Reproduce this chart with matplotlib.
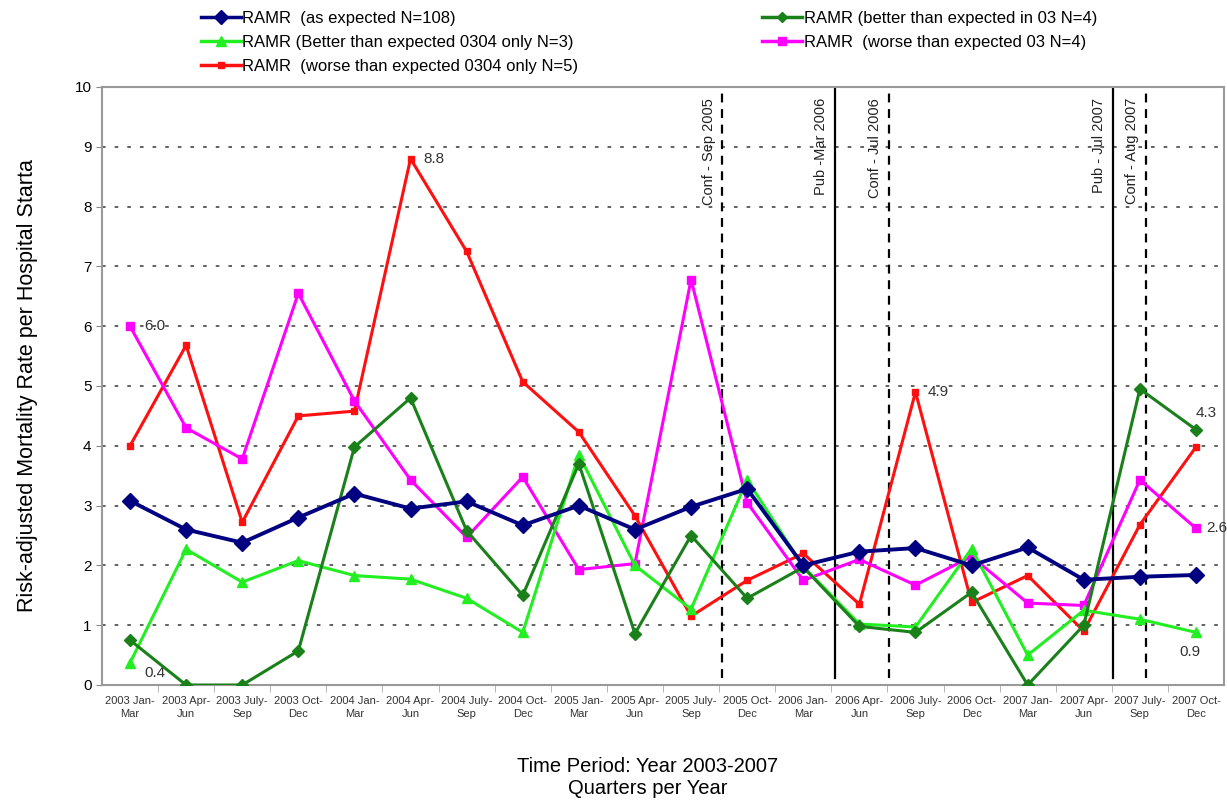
import matplotlib
matplotlib.use("Agg")
import matplotlib.pyplot as plt
from matplotlib.lines import Line2D

plt.rcParams["font.family"] = ["Liberation Sans", "DejaVu Sans"]

quarters = ["2003 Jan-\nMar", "2003 Apr-\nJun", "2003 July-\nSep", "2003 Oct-\nDec",
            "2004 Jan-\nMar", "2004 Apr-\nJun", "2004 July-\nSep", "2004 Oct-\nDec",
            "2005 Jan-\nMar", "2005 Apr-\nJun", "2005 July-\nSep", "2005 Oct-\nDec",
            "2006 Jan-\nMar", "2006 Apr-\nJun", "2006 July-\nSep", "2006 Oct-\nDec",
            "2007 Jan-\nMar", "2007 Apr-\nJun", "2007 July-\nSep", "2007 Oct-\nDec"]

as_expected = [3.08, 2.60, 2.38, 2.80, 3.20, 2.95, 3.07, 2.67, 3.00, 2.60,
               2.98, 3.28, 2.00, 2.23, 2.29, 2.00, 2.30, 1.76, 1.81, 1.84]
better_0304 = [0.37, 2.27, 1.72, 2.08, 1.83, 1.77, 1.45, 0.88, 3.85, 2.00,
               1.27, 3.43, 1.98, 1.02, 0.97, 2.28, 0.50, 1.25, 1.10, 0.88]
better_03 = [0.75, 0.00, 0.00, 0.57, 3.98, 4.80, 2.58, 1.50, 3.70, 0.86,
             2.50, 1.45, 1.97, 0.98, 0.88, 1.55, 0.00, 1.00, 4.95, 4.27]
worse_03 = [6.00, 4.30, 3.78, 6.55, 4.75, 3.43, 2.47, 3.48, 1.93, 2.03,
            6.78, 3.05, 1.75, 2.10, 1.67, 2.15, 1.37, 1.33, 3.43, 2.62]
worse_0304 = [4.00, 5.68, 2.72, 4.50, 4.58, 8.80, 7.25, 5.07, 4.23, 2.83,
              1.15, 1.75, 2.20, 1.35, 4.90, 1.38, 1.83, 0.90, 2.68, 3.98]

# eventos: (posición en el eje de trimestres, texto, estilo)
events = [(10.56, "Conf - Sep 2005", "--"), (12.56, "Pub -Mar 2006", "-"),
          (13.52, "Conf - Jul 2006", "--"), (17.52, "Pub - Jul 2007", "-"),
          (18.11, "Conf - Aug 2007", "--")]

C_BLUE = "#000080"
C_LGREEN = "#22ee22"
C_DGREEN = "#1a801a"
C_MAG = "#ff00ff"
C_RED = "#ff1010"

fig = plt.figure(figsize=(12.27, 8), dpi=100)
ax = fig.add_axes([0.0831, 0.14375, 0.9145, 0.7475])
x = list(range(len(quarters)))

lw = 2.2
ax.plot(x, worse_0304, color=C_RED, lw=lw, marker="s", ms=4, zorder=3)
ax.plot(x, worse_03, color=C_MAG, lw=lw, marker="s", ms=6, zorder=3)
ax.plot(x, better_0304, color=C_LGREEN, lw=lw, marker="^", ms=7, zorder=4)
ax.plot(x, better_03, color=C_DGREEN, lw=lw, marker="D", ms=6, zorder=4)
ax.plot(x, as_expected, color=C_BLUE, lw=lw + 0.6, marker="D", ms=8, zorder=5)

for pos, txt, ls in events:
    ax.plot([pos, pos], [0.12, 10], color="black", ls=ls, lw=1.6,
            dashes=(4, 3) if ls == "--" else (None, None), zorder=2)
    ax.text(pos - 0.12, 9.82, txt, rotation=90, ha="right", va="top",
            fontsize=10.5, color="#222222")

# etiquetas de valores
fs = 11
ax.text(0.25, 6.0, "6.0", va="center", fontsize=fs, color="#333333")
ax.text(5.22, 8.8, "8.8", va="center", fontsize=fs, color="#333333")
ax.text(0.25, 0.2, "0.4", va="center", fontsize=fs, color="#333333")
ax.text(14.22, 4.9, "4.9", va="center", fontsize=fs, color="#333333")
ax.text(19.0, 4.55, "4.3", va="center", fontsize=fs, color="#333333")
ax.text(19.18, 2.62, "2.6", va="center", fontsize=fs, color="#333333")
ax.text(18.7, 0.55, "0.9", va="center", fontsize=fs, color="#333333")

ax.set_xlim(-0.5, len(quarters) - 0.5)
ax.set_ylim(0, 10)
ax.set_yticks(range(0, 11))
ax.tick_params(axis="y", labelsize=11, length=4, color="#888888")
ax.set_xticks(x)
ax.set_xticklabels(quarters, fontsize=8, color="#333333", linespacing=1.35)
ax.tick_params(axis="x", length=0, pad=8)
ax.set_xticks([i + 0.5 for i in range(len(quarters) - 1)], minor=True)
ax.tick_params(axis="x", which="minor", length=5, color="#aaaaaa")
for yv in range(1, 10):
    ax.axhline(yv, color="#555555", ls=(0, (2, 5)), lw=1.3, zorder=1)
for s in ax.spines.values():
    s.set_color("#999999")
    s.set_linewidth(1.5)

ax.set_ylabel("Risk-adjusted Mortality Rate per Hospital Starta", fontsize=15.5,
              labelpad=26)
fig.text(0.528, 0.028, "Time Period: Year 2003-2007\nQuarters per Year",
         ha="center", va="center", fontsize=14.5, linespacing=1.2)

def handle(color, marker, ms):
    return Line2D([], [], color=color, lw=2.5, marker=marker, ms=ms)

leg_kw = dict(loc="upper left", frameon=False, fontsize=12, handlelength=2.4,
              handletextpad=0.1, labelspacing=0.55, borderaxespad=0)
fig.legend([handle(C_BLUE, "D", 7), handle(C_LGREEN, "^", 7),
            handle(C_RED, "s", 5)],
           ["RAMR  (as expected N=108)",
            "RAMR (Better than expected 0304 only N=3)",
            "RAMR  (worse than expected 0304 only N=5)"],
           bbox_to_anchor=(0.158, 0.995), **leg_kw)
fig.legend([handle(C_DGREEN, "D", 5), handle(C_MAG, "s", 6)],
           ["RAMR (better than expected in 03 N=4)",
            "RAMR  (worse than expected 03 N=4)"],
           bbox_to_anchor=(0.616, 0.995), **leg_kw)

fig.savefig("out.png", dpi=100)
